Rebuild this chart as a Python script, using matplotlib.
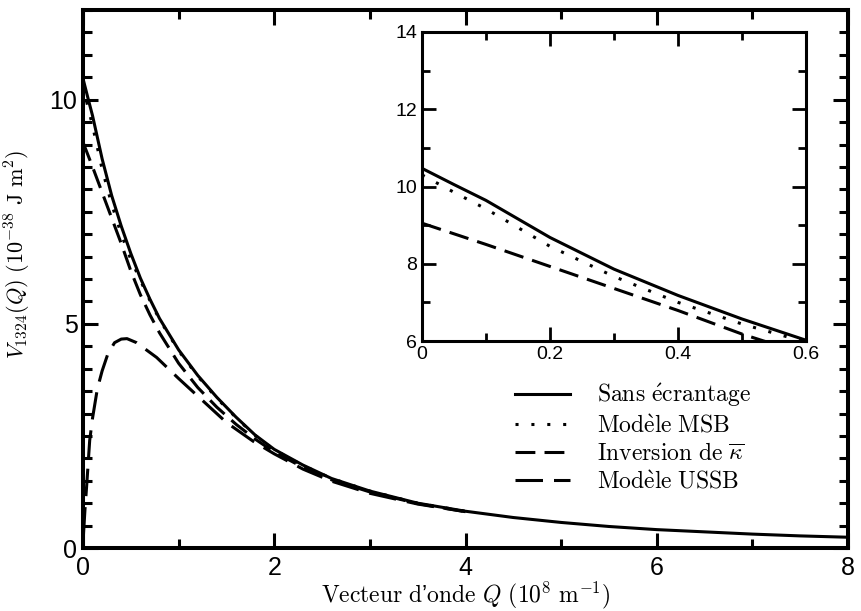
import matplotlib
matplotlib.use("Agg")
import matplotlib.pyplot as plt
from matplotlib.ticker import MultipleLocator

plt.rcParams['mathtext.fontset'] = 'cm'
plt.rcParams['font.family'] = ['Liberation Sans', 'DejaVu Sans']

# ---- data ----
q_solid = [0, 0.05, 0.1, 0.2, 0.3, 0.4, 0.5, 0.6, 0.7, 0.8, 1.0, 1.2, 1.4, 1.6,
           1.8, 2.0, 2.3, 2.6, 3.0, 3.5, 4.0, 4.5, 5.0, 5.5, 6.0, 6.5, 7.0, 7.5, 8.0]
v_solid = [10.47, 10.05, 9.64, 8.68, 7.86, 7.18, 6.57, 6.02, 5.55, 5.12, 4.42, 3.85,
           3.36, 2.92, 2.52, 2.20, 1.85, 1.55, 1.27, 1.00, 0.82, 0.68, 0.57, 0.48,
           0.41, 0.36, 0.31, 0.27, 0.24]

q_msb = [0, 0.05, 0.1, 0.2, 0.3, 0.4, 0.5, 0.6, 0.7, 0.8, 1.0, 1.2, 1.4, 1.6,
         1.8, 2.0, 2.3, 2.6, 3.0, 3.5, 4.0]
v_msb = [10.30, 9.85, 9.42, 8.45, 7.67, 7.00, 6.44, 5.97, 5.52, 5.10, 4.40, 3.83,
         3.34, 2.91, 2.51, 2.19, 1.84, 1.55, 1.27, 1.00, 0.82]

q_inv = [0, 0.1, 0.2, 0.3, 0.4, 0.5, 0.6, 0.7, 0.8, 1.0, 1.2, 1.4, 1.6, 1.8,
         2.0, 2.3, 2.6, 3.0, 3.5, 4.0]
v_inv = [9.05, 8.50, 7.93, 7.36, 6.79, 6.18, 5.65, 5.20, 4.80, 4.12, 3.58, 3.14,
         2.76, 2.43, 2.14, 1.80, 1.52, 1.25, 0.99, 0.81]

q_ussb = [0.005, 0.02, 0.04, 0.07, 0.1, 0.15, 0.2, 0.26, 0.33, 0.4, 0.46, 0.56,
          0.77, 1.0, 1.25, 1.5, 1.78, 2.0, 2.3, 2.6, 3.0, 3.5, 4.0]
v_ussb = [0.30, 0.84, 1.44, 2.40, 2.90, 3.55, 3.95, 4.33, 4.58, 4.66, 4.67, 4.58,
          4.25, 3.78, 3.29, 2.80, 2.38, 2.10, 1.76, 1.49, 1.22, 0.98, 0.81]

labels = [r'$\mathrm{Sans\ \acute{e}crantage}$',
          r'$\mathrm{Mod\grave{e}le\ MSB}$',
          r'$\mathrm{Inversion\ de\ }\overline{\kappa}$',
          r'$\mathrm{Mod\grave{e}le\ USSB}$']

main_xticks = [0, 2, 4, 6, 8]
main_yticks = [0, 5, 10]
inset_xticks = [0, 0.2, 0.4, 0.6]
inset_yticks = [6, 8, 10, 12, 14]

# ---- figure ----
fig = plt.figure(figsize=(8.62, 6.11), dpi=100)
ax = fig.add_axes([83/862, 1-548/611, 765/862, 538/611])

lw = 2.2
styles = [dict(ls='-', lw=lw),
          dict(ls=(0, (1, 4.2)), lw=lw),
          dict(ls=(0, (6.5, 3.0)), lw=lw),
          dict(ls=(0, (9, 3.6)), lw=lw)]
series = [(q_solid, v_solid), (q_msb, v_msb), (q_inv, v_inv), (q_ussb, v_ussb)]

for (q, v), st, lab in zip(series, styles, labels):
    ax.plot(q, v, color='black', label=lab, **st)

ax.set_xlim(0, 8)
ax.set_ylim(0, 12)
ax.set_xticks(main_xticks)
ax.set_yticks(main_yticks)
ax.xaxis.set_minor_locator(MultipleLocator(1))
ax.yaxis.set_minor_locator(MultipleLocator(0.5))
ax.tick_params(which='both', direction='in', top=True, right=True, width=2.2)
ax.tick_params(which='major', length=11, labelsize=18)
ax.tick_params(which='minor', length=6.5)
ax.tick_params(axis='x', pad=6)
ax.tick_params(axis='y', pad=4)
for s in ax.spines.values():
    s.set_linewidth(2.9)

ax.set_xlabel(r"$\mathrm{Vecteur\ d}$" + "\u2019" + r"$\mathrm{onde}\ Q\ (10^8\ \mathrm{m}^{-1})$",
              fontsize=17)
ax.xaxis.set_label_coords(0.5, -0.089, transform=ax.transAxes)
ax.xaxis.label.set_va('center')
ax.set_ylabel(r'$V_{1324}(Q)\ (10^{-38}\ \mathrm{J\ m}^2)$', fontsize=16)
ax.yaxis.set_label_coords(-0.065, 0.545)

leg = ax.legend(loc='upper left', bbox_to_anchor=(0.565, 0.31), frameon=False,
                fontsize=17, handlelength=2.3, handletextpad=1.15,
                labelspacing=0.25, borderpad=0, borderaxespad=0)

# ---- inset ----
axi = fig.add_axes([422/862, 1-341/611, 384/862, 309/611])
for (q, v), st in zip(series, styles):
    axi.plot(q, v, color='black', **st)
axi.set_xlim(0, 0.6)
axi.set_ylim(6, 14)
axi.set_xticks(inset_xticks)
axi.set_xticklabels(['0', '0.2', '0.4', '0.6'])
axi.set_yticks(inset_yticks)
axi.xaxis.set_minor_locator(MultipleLocator(0.1))
axi.yaxis.set_minor_locator(MultipleLocator(1))
axi.tick_params(which='both', direction='in', top=True, right=True, width=2.0)
axi.tick_params(which='major', length=10, labelsize=14, pad=3.5)
axi.tick_params(which='minor', length=5.5)
for s in axi.spines.values():
    s.set_linewidth(2.2)

fig.savefig('out.png', dpi=100)
